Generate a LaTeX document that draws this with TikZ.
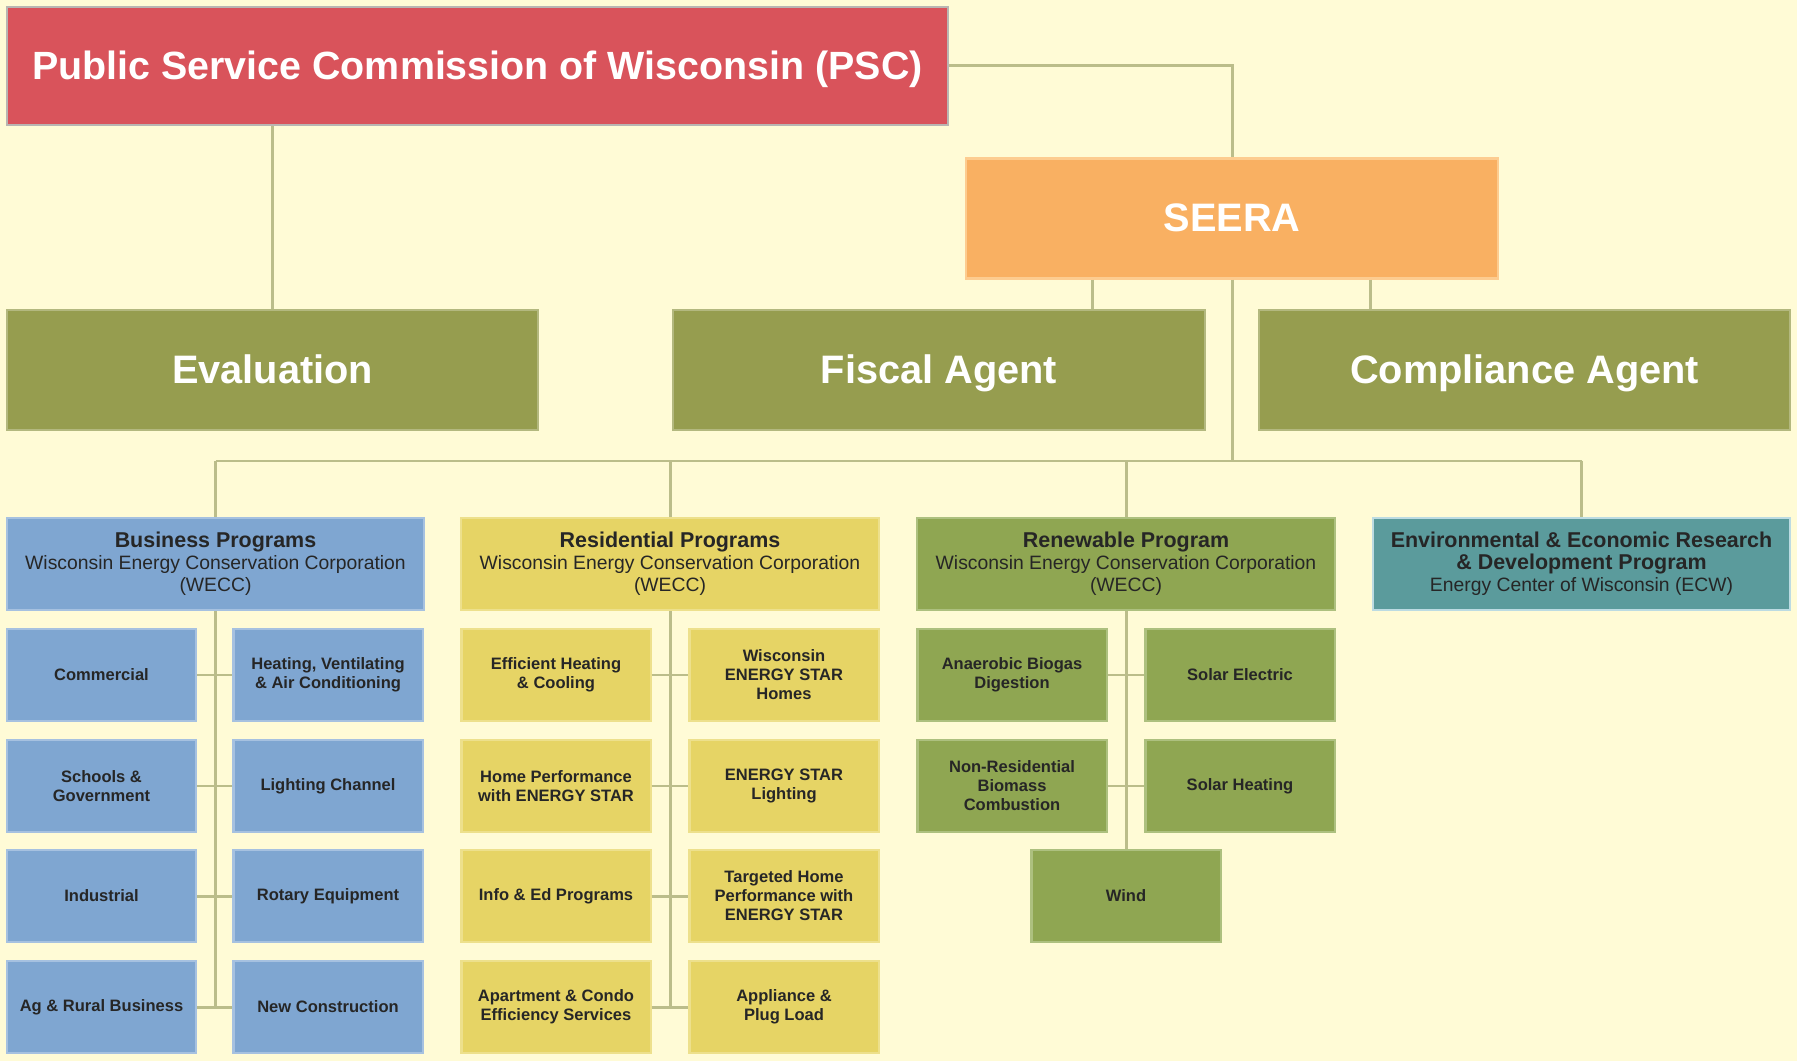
\documentclass[tikz,border=0pt]{standalone}
\usepackage{fontspec}
\setmainfont{Liberation Sans}
\usetikzlibrary{positioning,calc}

\definecolor{bgc}{HTML}{FFFBD6}
\definecolor{linec}{HTML}{BBBD8A}
\definecolor{pscred}{HTML}{D9535B}
\definecolor{pscrim}{HTML}{B9B5B2}
\definecolor{seerac}{HTML}{F9B062}
\definecolor{seerarim}{HTML}{FDCC90}
\definecolor{olive}{HTML}{969D4F}
\definecolor{olivrim}{HTML}{B3B87F}
\definecolor{bluec}{HTML}{7FA6D1}
\definecolor{bluerim}{HTML}{A6C1E0}
\definecolor{yelc}{HTML}{E6D465}
\definecolor{yelrim}{HTML}{EDE08C}
\definecolor{renc}{HTML}{8FA652}
\definecolor{renrim}{HTML}{ADC07F}
\definecolor{tealc}{HTML}{5B9B9C}
\definecolor{tealrim}{HTML}{BCDBE2}
\definecolor{darkt}{HTML}{262626}

\tikzset{
    % plain box, all others build on it
    box/.style={rectangle, inner sep=1pt, align=center, line width=0.6pt},
    % top rows, white titles
    bigbox/.style={box, text=white,
           font=\bfseries\fontsize{11.3}{13}\selectfont,
           text height=0.85em, text depth=0.1em,
           minimum width=5.31cm, minimum height=1.2cm},
    % program headers
    hdrbox/.style={box, text=darkt,
           font=\fontsize{5.5}{6.3}\selectfont,
           minimum width=4.17cm, minimum height=0.92cm},
    % single programs
    smallbox/.style={box, text=darkt,
           font=\bfseries\fontsize{4.7}{5.4}\selectfont,
           minimum width=1.89cm, minimum height=0.92cm},
    blu/.style={fill=bluec, draw=bluerim},
    yel/.style={fill=yelc, draw=yelrim},
    ren/.style={fill=renc, draw=renrim},
    % connector lines
    conn/.style={draw=linec, line width=0.85pt}
}
\newcommand\ttl[1]{{\bfseries\fontsize{6.1}{6.3}\selectfont #1}}

\begin{document}
\begin{tikzpicture}[x=0.01cm, y=-0.01cm]
\useasboundingbox (0,0) rectangle (1797,1061);
\fill[bgc] (0,0) rectangle (1797,1061);

% top level
\node[bigbox, fill=pscred, draw=pscrim, font=\bfseries\fontsize{11.2}{13}\selectfont,
      minimum width=9.41cm, minimum height=1.18cm] (psc) at (477.5,66)
      {Public Service Commission of Wisconsin (PSC)};
\node[bigbox, fill=seerac, draw=seerarim, minimum width=5.32cm] (seera) at (1232,218.5) {SEERA};

\node[bigbox, fill=olive, draw=olivrim] (eval) at (272.5,370) {Evaluation};
\node[bigbox, fill=olive, draw=olivrim] (fiscal) at (939,370) {Fiscal Agent};
\node[bigbox, fill=olive, draw=olivrim] (compl) at (1524.5,370) {Compliance Agent};

% program headers
\node[hdrbox, blu] (bushdr) at (215.5,564)
      {\ttl{Business Programs}\\Wisconsin Energy Conservation Corporation\\(WECC)};
\node[hdrbox, yel] (reshdr) at (670,564)
      {\ttl{Residential Programs}\\Wisconsin Energy Conservation Corporation\\(WECC)};
\node[hdrbox, ren] (renhdr) at (1126,564)
      {\ttl{Renewable Program}\\Wisconsin Energy Conservation Corporation\\(WECC)};
\node[hdrbox, fill=tealc, draw=tealrim] (envhdr) at (1581.5,564)
      {\ttl{Environmental \& Economic Research}\\\ttl{\& Development Program}\\Energy Center of Wisconsin (ECW)};

% business
\node[smallbox, blu] (com)  at (101.5,675)  {Commercial};
\node[smallbox, blu] (hvac) at (328,675)    {Heating, Ventilating\\\& Air Conditioning};
\node[smallbox, blu] (sch)  at (101.5,786)  {Schools \&\\Government};
\node[smallbox, blu] (lgt)  at (328,786)    {Lighting Channel};
\node[smallbox, blu] (ind)  at (101.5,896)  {Industrial};
\node[smallbox, blu] (rot)  at (328,896)    {Rotary Equipment};
\node[smallbox, blu] (ag)   at (101.5,1007) {Ag \& Rural Business};
\node[smallbox, blu] (newc) at (328,1007)   {New Construction};

% residential
\node[smallbox, yel] (heat) at (556,675)  {Efficient Heating\\\& Cooling};
\node[smallbox, yel] (wes)  at (784,675)  {Wisconsin\\ENERGY STAR\\Homes};
\node[smallbox, yel] (hp)   at (556,786)  {Home Performance\\with ENERGY STAR};
\node[smallbox, yel] (esl)  at (784,786)  {ENERGY STAR\\Lighting};
\node[smallbox, yel] (info) at (556,896)  {Info \& Ed Programs};
\node[smallbox, yel] (thp)  at (784,896)  {Targeted Home\\Performance with\\ENERGY STAR};
\node[smallbox, yel] (apt)  at (556,1007) {Apartment \& Condo\\Efficiency Services};
\node[smallbox, yel] (appl) at (784,1007) {Appliance \&\\Plug Load};

% renewable
\node[smallbox, ren] (bio)  at (1012,675) {Anaerobic Biogas\\Digestion};
\node[smallbox, ren] (sel)  at (1240,675) {Solar Electric};
\node[smallbox, ren] (biom) at (1012,786) {Non-Residential\\Biomass\\Combustion};
\node[smallbox, ren] (sht)  at (1240,786) {Solar Heating};
\node[smallbox, ren] (wind) at (1126,896) {Wind};

% upper connectors
\draw[conn] (psc.east) -| (seera.north);
\draw[conn] (psc.south -| eval.north) -- (eval.north);
\coordinate (fdrop) at ([xshift=-1.39cm]seera.south);
\coordinate (cdrop) at ([xshift=1.38cm]seera.south);
\draw[conn] (fdrop) -- (fdrop |- fiscal.north);
\draw[conn] (cdrop) -- (cdrop |- compl.north);

% bus to the programs
\coordinate (bus) at (1232,461);
\draw[conn] (seera.south) -- (bus);
\draw[conn] (bushdr.north |- bus) -- (envhdr.north |- bus);
\foreach \h in {bushdr,reshdr,renhdr,envhdr}
    \draw[conn] (\h.north |- bus) -- (\h.north);

% spines and ticks
\draw[conn] (bushdr.south) -- (bushdr.south |- ag.east);
\draw[conn] (reshdr.south) -- (reshdr.south |- apt.east);
\draw[conn] (renhdr.south) -- (wind.north);
\foreach \a/\b in {com/hvac,sch/lgt,ind/rot,ag/newc,heat/wes,hp/esl,info/thp,apt/appl,bio/sel,biom/sht}
    \draw[conn] (\a.east) -- (\b.west);

\end{tikzpicture}
\end{document}
